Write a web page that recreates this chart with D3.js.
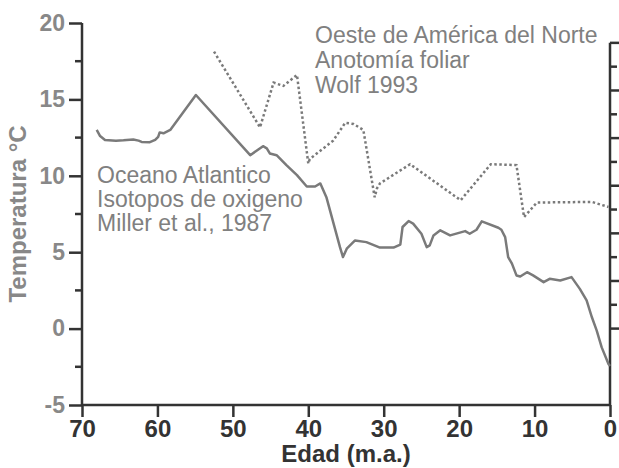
<!DOCTYPE html>
<html>
<head>
<meta charset="utf-8">
<script src="https://cdn.jsdelivr.net/npm/d3@7/dist/d3.min.js"></script>
<style>
  body { margin: 0; background: #fff; }
  svg { display: block; font-family: "Liberation Sans", Arial, sans-serif; }
</style>
</head>
<body>
<svg id="chart"></svg>
<script>
// Miller et al. 1987 (Atlantic oxygen isotopes) - age (Ma), temperature (C)
var millerAge = [68.05, 67.6, 66.95, 65.5, 64.5, 63.2, 62.5, 62.1, 61.0, 60.3, 59.9, 59.7, 59.2, 58.3,
    54.9, 47.7, 46.0, 45.5, 45.1, 44.2, 42.9, 41.5, 40.2, 39.1, 38.4, 37.6, 35.8, 35.4, 34.9, 33.8,
    32.3, 30.5, 28.7, 27.8, 27.5, 26.7, 26.1, 25.0, 24.3, 23.9, 23.4, 22.5, 21.2, 19.2, 18.6, 17.7,
    17.0, 14.8, 14.4, 13.9, 13.5, 13.0, 12.4, 11.9, 11.0, 10.2, 8.8, 8.0, 6.6, 5.1, 4.0, 3.1, 2.4,
    1.76, 1.1, 0.2, 0.0];
var millerTemp = [13.0, 12.6, 12.34, 12.3, 12.32, 12.38, 12.3, 12.22, 12.2, 12.35, 12.55, 12.84, 12.78, 13.0,
    15.29, 11.35, 11.94, 11.8, 11.46, 11.35, 10.7, 10.04, 9.3, 9.3, 9.5, 8.6, 5.33, 4.68, 5.23, 5.77,
    5.66, 5.3, 5.3, 5.5, 6.65, 7.04, 6.87, 6.21, 5.33, 5.45, 6.1, 6.43, 6.1, 6.38, 6.21, 6.47,
    7.02, 6.6, 6.47, 5.99, 4.68, 4.25, 3.48, 3.41, 3.69, 3.48, 3.04, 3.26, 3.15, 3.37, 2.6, 1.84, 0.74,
    -0.13, -1.23, -2.32, -2.45];

// Wolf 1993 (leaf physiognomy, western North America)
var wolfAge = [52.5, 46.4, 44.6, 43.3, 41.5, 40.0, 39.8, 36.7, 35.1, 34.0, 32.7, 31.2, 30.9, 30.5,
    26.5, 19.8, 15.8, 12.4, 11.4, 9.7, 2.4, 0.2];
var wolfTemp = [18.13, 13.17, 16.1, 15.88, 16.6, 10.8, 11.1, 12.3, 13.47, 13.39, 13.0, 8.6, 9.17, 9.5,
    10.76, 8.4, 10.76, 10.7, 7.3, 8.25, 8.29, 7.96];

var xTicks = [70, 60, 50, 40, 30, 20, 10, 0];
var yMajor = [-5, 0, 5, 10, 15, 20];
var yMinor = [-2.5, 2.5, 7.5, 12.5, 17.5];
var rightTicks = [0, 1, 2, 3, 4, 5, 6, 7, 8, 9, 10, 11, 12];

var labelMiller = ["Oceano Atlantico", "Isotopos de oxigeno", "Miller et al., 1987"];
var labelWolf = ["Oeste de América del Norte", "Anotomía foliar", "Wolf 1993"];

var width = 619, height = 468;
var margin = {top: 23, right: 9, bottom: 63, left: 82};
var axisColor = "#333", lineColor = "#7a7a7a", softText = "#808080";
var font = "'Liberation Sans', Arial, sans-serif";

var svg = d3.select("#chart").attr("width", width).attr("height", height);

var x = d3.scaleLinear().domain([70, 0]).range([margin.left, width - margin.right]);
var y = d3.scaleLinear().domain([-5, 20]).range([height - margin.bottom, margin.top]);
// unlabeled right-hand scale: starts at 0 C and runs up to ~18.7 C
var yRight = d3.scaleLinear().domain([0, 12]).range([y(0), y(18.7)]);

// left axis (plain hyphen for negatives, like the original)
var gLeft = svg.append("g").attr("transform", "translate(" + margin.left + ",0)");
gLeft.call(d3.axisLeft(y).tickValues(yMajor).tickSize(13).tickPadding(4)
    .tickFormat(function(d) { return String(d); }));
gLeft.append("g").selectAll("line").data(yMinor).enter().append("line")
    .attr("x1", -7).attr("x2", 0)
    .attr("y1", function(d) { return y(d); }).attr("y2", function(d) { return y(d); });
gLeft.select(".domain").attr("d", "M0," + y(-5) + "V" + y(20));
gLeft.selectAll("line").attr("stroke", axisColor).attr("stroke-width", 2.5);
gLeft.select(".domain").attr("stroke", axisColor).attr("stroke-width", 2.5);
gLeft.selectAll("text").attr("fill", "#888").attr("font-size", 23).attr("font-weight", "bold")
    .attr("font-family", font);

// bottom axis
var gBottom = svg.append("g").attr("transform", "translate(0," + y(-5) + ")");
gBottom.call(d3.axisBottom(x).tickValues(xTicks).tickSize(12).tickPadding(3)
    .tickFormat(function(d) { return String(d); }));
gBottom.select(".domain").attr("d", "M" + x(70) + ",0H" + x(0));
gBottom.selectAll("line, .domain").attr("stroke", axisColor).attr("stroke-width", 2.5);
gBottom.selectAll("text").attr("fill", axisColor).attr("font-size", 24).attr("font-weight", "bold")
    .attr("font-family", font);

// right axis (ticks only)
var gRight = svg.append("g").attr("transform", "translate(" + x(0) + ",0)");
gRight.append("line").attr("x1", 0).attr("x2", 0).attr("y1", yRight(12)).attr("y2", y(-5));
gRight.selectAll("line.rt").data(rightTicks).enter().append("line").attr("class", "rt")
    .attr("x1", 0).attr("x2", function(d) { return d % 2 === 0 ? 12 : 7; })
    .attr("y1", function(d) { return yRight(d); }).attr("y2", function(d) { return yRight(d); });
gRight.selectAll("line").attr("stroke", axisColor).attr("stroke-width", 2.5);

// axis titles
svg.append("text")
    .attr("transform", "translate(26," + ((y(-5) + y(20)) / 2) + ") rotate(-90)")
    .attr("text-anchor", "middle")
    .attr("fill", "#888").attr("font-size", 24).attr("font-weight", "bold")
    .text("Temperatura °C");
svg.append("text")
    .attr("x", (x(70) + x(0)) / 2).attr("y", 462)
    .attr("text-anchor", "middle")
    .attr("fill", axisColor).attr("font-size", 24).attr("font-weight", "bold")
    .text("Edad (m.a.)");

// series
var miller = millerAge.map(function(a, i) { return [a, millerTemp[i]]; });
var wolf = wolfAge.map(function(a, i) { return [a, wolfTemp[i]]; });
var line = d3.line().x(function(d) { return x(d[0]); }).y(function(d) { return y(d[1]); });

svg.append("path").datum(miller)
    .attr("d", line)
    .attr("fill", "none").attr("stroke", lineColor).attr("stroke-width", 2.5)
    .attr("stroke-linejoin", "round");
svg.append("path").datum(wolf)
    .attr("d", line)
    .attr("fill", "none").attr("stroke", lineColor).attr("stroke-width", 2.5)
    .attr("stroke-dasharray", "2.5,2.5");

// annotations
svg.append("text").attr("x", 97).attr("y", 183)
    .attr("fill", softText).attr("font-size", 23)
    .selectAll("tspan").data(labelMiller).enter().append("tspan")
    .attr("x", 97).attr("dy", function(d, i) { return i === 0 ? 0 : 24; })
    .text(function(d) { return d; });
svg.append("text").attr("x", 315).attr("y", 43)
    .attr("fill", softText).attr("font-size", 23)
    .selectAll("tspan").data(labelWolf).enter().append("tspan")
    .attr("x", 315).attr("dy", function(d, i) { return i === 0 ? 0 : 25; })
    .text(function(d) { return d; });
</script>
</body>
</html>
